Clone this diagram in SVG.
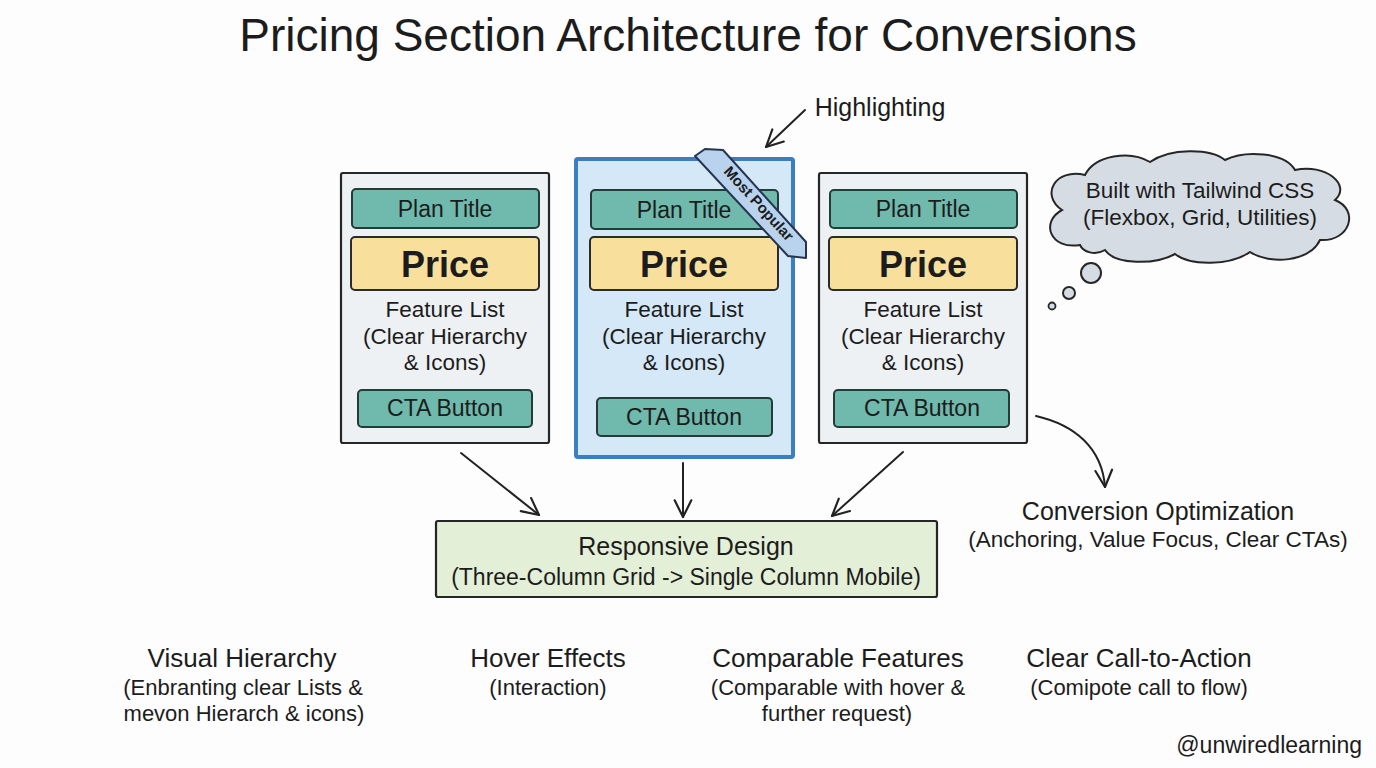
<svg xmlns="http://www.w3.org/2000/svg" width="1376" height="768" viewBox="0 0 1376 768">
<defs>
<style>
text{font-family:"Liberation Sans","DejaVu Sans",sans-serif;fill:#1c1c1c;text-anchor:middle}
.title{font-size:46px}
.lbl{font-size:23px}
.price{font-size:36px;font-weight:bold}
.feat{font-size:22.5px}
.h{font-size:26px}
.s{font-size:22px}
.card{fill:#eef1f3;stroke:#262626;stroke-width:2.2}
.pop{fill:#d4e8f8;stroke:#3b7fc1;stroke-width:4}
.teal{fill:#6fb9ad;stroke:#253b37;stroke-width:2}
.yel{fill:#f8e09c;stroke:#2b2b2b;stroke-width:2}
.con{fill:none;stroke:#222;stroke-width:2;stroke-linecap:round}
</style>
<marker id="arr" viewBox="0 0 12 12" refX="11" refY="6" markerWidth="20" markerHeight="20" markerUnits="userSpaceOnUse" orient="auto">
<path d="M1,1 L11,6 L1,11" fill="none" stroke="#222" stroke-width="1.3" stroke-linecap="round" stroke-linejoin="round"/>
</marker>
</defs>
<rect x="0" y="0" width="1376" height="768" fill="#fdfdfd"/>
<text class="title" x="688" y="51">Pricing Section Architecture for Conversions</text>

<g id="card-left">
<rect class="card" x="341" y="173" width="208" height="270" rx="2"/>
<rect class="teal" x="352" y="189" width="187" height="39" rx="4"/>
<text class="lbl" x="445" y="217">Plan Title</text>
<rect class="yel" x="351" y="237" width="188" height="53" rx="4"/>
<text class="price" x="445" y="277">Price</text>
<text class="feat" x="445" y="317">Feature List</text>
<text class="feat" x="445" y="344">(Clear Hierarchy</text>
<text class="feat" x="445" y="370">&amp; Icons)</text>
<rect class="teal" x="358" y="390" width="174" height="37" rx="4"/>
<text class="lbl" x="445" y="416">CTA Button</text>
</g>

<g id="card-popular">
<rect class="pop" x="576" y="159" width="217" height="298" rx="2"/>
<rect class="teal" x="591" y="190" width="187" height="39" rx="4"/>
<text class="lbl" x="684" y="218">Plan Title</text>
<rect class="yel" x="590" y="237" width="188" height="53" rx="4"/>
<text class="price" x="684" y="277">Price</text>
<text class="feat" x="684" y="317">Feature List</text>
<text class="feat" x="684" y="344">(Clear Hierarchy</text>
<text class="feat" x="684" y="370">&amp; Icons)</text>
<rect class="teal" x="597" y="398" width="175" height="38" rx="4"/>
<text class="lbl" x="684" y="425">CTA Button</text>
</g>

<g id="ribbon">
<polygon points="695,156 705,149 723,150 806,242 806,258 788,256" fill="#b9d3ef" stroke="#27344d" stroke-width="2" stroke-linejoin="round"/>
<text x="0" y="0" transform="translate(755,207) rotate(47.5)" style="font-size:15px;font-weight:bold">Most Popular</text>
</g>

<g id="card-right">
<rect class="card" x="819" y="173" width="208" height="270" rx="2"/>
<rect class="teal" x="830" y="190" width="187" height="38" rx="4"/>
<text class="lbl" x="923" y="217">Plan Title</text>
<rect class="yel" x="829" y="237" width="188" height="53" rx="4"/>
<text class="price" x="923" y="277">Price</text>
<text class="feat" x="923" y="317">Feature List</text>
<text class="feat" x="923" y="344">(Clear Hierarchy</text>
<text class="feat" x="923" y="370">&amp; Icons)</text>
<rect class="teal" x="834" y="390" width="175" height="37" rx="4"/>
<text class="lbl" x="922" y="416">CTA Button</text>
</g>

<g id="responsive">
<rect x="436" y="521" width="501" height="76" fill="#e3efd7" stroke="#262626" stroke-width="2.2" rx="2"/>
<text x="686" y="555" style="font-size:25px">Responsive Design</text>
<text x="686" y="585" style="font-size:23px">(Three-Column Grid -&gt; Single Column Mobile)</text>
</g>

<g id="highlighting">
<text x="880" y="116" style="font-size:25px">Highlighting</text>
</g>

<g id="tailwind-cloud">
<path d="M1080,245 C1050,250 1040,222 1062,210 C1040,195 1055,168 1085,175 C1095,155 1130,150 1150,162 C1170,148 1210,148 1225,160 C1245,150 1285,152 1295,170 C1325,163 1352,185 1335,200 C1360,210 1350,242 1320,240 C1310,262 1270,265 1250,252 C1230,266 1190,266 1175,254 C1155,265 1115,265 1105,250 C1095,256 1083,252 1080,245 Z" fill="#d5dce3" stroke="#262626" stroke-width="2"/>
<circle cx="1091" cy="273" r="10" fill="#d5dce3" stroke="#262626" stroke-width="2"/>
<circle cx="1069" cy="293" r="6" fill="#d5dce3" stroke="#262626" stroke-width="2"/>
<circle cx="1052" cy="306" r="3.5" fill="#d5dce3" stroke="#262626" stroke-width="1.8"/>
<text x="1200" y="198" style="font-size:22.5px">Built with Tailwind CSS</text>
<text x="1200" y="225" style="font-size:22.5px">(Flexbox, Grid, Utilities)</text>
</g>

<g id="conversion">
<text x="1158" y="520" style="font-size:25px">Conversion Optimization</text>
<text x="1158" y="547" style="font-size:22.5px">(Anchoring, Value Focus, Clear CTAs)</text>
</g>

<g id="visual-hierarchy">
<text class="h" x="242" y="667">Visual Hierarchy</text>
<text class="s" x="243" y="695">(Enbranting clear Lists &amp;</text>
<text class="s" x="244" y="721">mevon Hierarch &amp; icons)</text>
</g>

<g id="hover-effects">
<text class="h" x="548" y="667">Hover Effects</text>
<text class="s" x="548" y="695">(Interaction)</text>
</g>

<g id="comparable-features">
<text class="h" x="838" y="667">Comparable Features</text>
<text class="s" x="838" y="695">(Comparable with hover &amp;</text>
<text class="s" x="837" y="721">further request)</text>
</g>

<g id="clear-cta">
<text class="h" x="1139" y="667">Clear Call-to-Action</text>
<text class="s" x="1139" y="695">(Comipote call to flow)</text>
</g>

<text x="1362" y="753" style="font-size:23px;text-anchor:end">@unwiredlearning</text>

<g id="connectors">
<line class="con" x1="461" y1="453" x2="539" y2="515" marker-end="url(#arr)"/>
<line class="con" x1="683" y1="463" x2="683" y2="517" marker-end="url(#arr)"/>
<line class="con" x1="903" y1="452" x2="832" y2="516" marker-end="url(#arr)"/>
<line class="con" x1="805" y1="110" x2="766" y2="147" marker-end="url(#arr)"/>
<path class="con" d="M1036,416 C1075,425 1102,448 1105,487" marker-end="url(#arr)"/>
</g>
</svg>
